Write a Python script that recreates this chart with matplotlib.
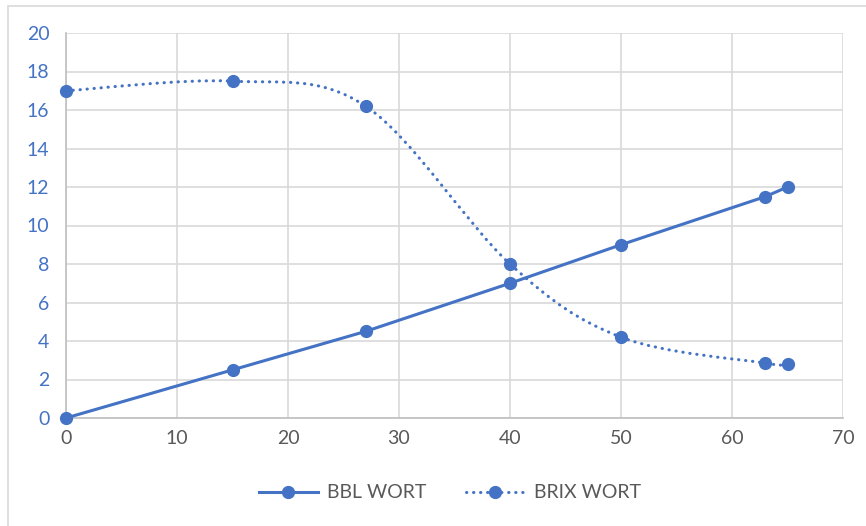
import matplotlib.pyplot as plt
from matplotlib.path import Path
from matplotlib.patches import PathPatch, Rectangle
from matplotlib.lines import Line2D

plt.rcParams['font.family'] = ['Lato', 'DejaVu Sans']

# data
bbl_x = [0, 15, 27, 40, 50, 63, 65]
bbl_y = [0, 2.5, 4.5, 7, 9, 11.5, 12]
brix_x = [0, 15, 27, 40, 50, 63, 65]
brix_y = [17, 17.5, 16.2, 8, 4.2, 2.85, 2.8]
x_ticks = [0, 10, 20, 30, 40, 50, 60, 70]
y_ticks = [0, 2, 4, 6, 8, 10, 12, 14, 16, 18, 20]

blue = '#4472C4'
grid_gray = '#D9D9D9'
text_gray = '#595959'


def smooth_path(xs, ys):
    # Excel-like smoothed line: cubic bezier through the points
    pts = list(zip(xs, ys))
    verts = [pts[0]]
    codes = [Path.MOVETO]
    n = len(pts)
    for i in range(n - 1):
        p0 = pts[i - 1] if i > 0 else pts[i]
        p1 = pts[i]
        p2 = pts[i + 1]
        p3 = pts[i + 2] if i + 2 < n else pts[i + 1]
        c1 = (p1[0] + (p2[0] - p0[0]) / 6, p1[1] + (p2[1] - p0[1]) / 6)
        c2 = (p2[0] - (p3[0] - p1[0]) / 6, p2[1] - (p3[1] - p1[1]) / 6)
        verts += [c1, c2, p2]
        codes += [Path.CURVE4] * 3
    return Path(verts, codes)


fig = plt.figure(figsize=(8.66, 5.26), dpi=100)
fig.patches.append(Rectangle((8 / 866, -0.1), 1.0, 1 - 6 / 526 + 0.1,
                             transform=fig.transFigure, fill=False,
                             edgecolor=grid_gray, linewidth=1.2))

ax = fig.add_axes([66 / 866, 1 - 418 / 526, 777 / 866, 385 / 526])

ax.plot(bbl_x, bbl_y, color=blue, linewidth=2.2, marker='o', markersize=8.5,
        solid_capstyle='round', zorder=3, clip_on=False)

curve = PathPatch(smooth_path(brix_x, brix_y), facecolor='none', edgecolor=blue,
                  linewidth=2.2, linestyle=(0, (0.1, 2.2)), capstyle='round', zorder=3)
ax.add_patch(curve)
ax.plot(brix_x, brix_y, linestyle='none', color=blue, marker='o', markersize=8.5,
        zorder=4, clip_on=False)

ax.set_xlim(0, 70)
ax.set_ylim(0, 20)
ax.set_xticks(x_ticks)
ax.set_yticks(y_ticks)
ax.grid(True, color=grid_gray, linewidth=1.2)
ax.set_axisbelow(True)
for side in ['top', 'right']:
    ax.spines[side].set_visible(False)
for side in ['left', 'bottom']:
    ax.spines[side].set_color('#BFBFBF')
    ax.spines[side].set_linewidth(1.2)
ax.tick_params(length=0, labelsize=14)
ax.tick_params(axis='x', colors=text_gray, pad=9)
ax.tick_params(axis='y', colors=blue, pad=12)

handles = [
    Line2D([], [], color=blue, linewidth=2.2, marker='o', markersize=8.5),
    Line2D([], [], color=blue, linewidth=2.2, marker='o', markersize=8.5,
           linestyle=(0, (0.1, 2.2)), dash_capstyle='round'),
]
fig.legend(handles, ['BBL WORT', 'BRIX WORT'], loc='center', bbox_to_anchor=(450 / 866, 1 - 493 / 526),
           ncol=2, frameon=False, fontsize=14, labelcolor=text_gray, handlelength=3.0,
           columnspacing=2.0, handletextpad=0.5)

fig.savefig('out.png', dpi=100)
